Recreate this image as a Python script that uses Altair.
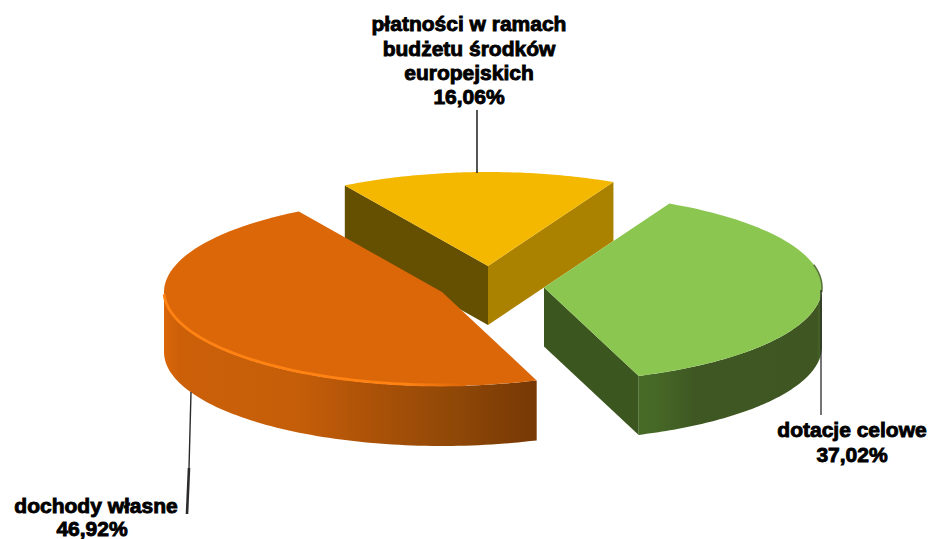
import math
import altair as alt

# Budget shares, in percent
names = ["płatności w ramach budżetu środków europejskich", "dotacje celowe", "dochody własne"]
shares = [16.06, 37.02, 46.92]

# Face colours and wall gradients of each slice
top_colors = ["#F4B800", "#8BC750", "#DB6709"]
yellow_wall_left = "#654F00"
yellow_wall_right = "#AB8100"
green_wall_flat = "#3C5620"
green_wall_stops = [(0.0, "#486A27"), (0.1, "#466826"), (0.3, "#3F5823"), (0.97, "#3F5622"), (1.0, "#4A6B28")]
orange_wall_stops = [(0.0, "#DA6608"), (0.04, "#CC6009"), (0.36, "#C55E09"), (0.55, "#AD5208"),
                     (0.78, "#8F4807"), (1.0, "#773805")]
rim_highlight_stops = [(0.0, "#FF8212"), (0.8, "#FF8212"), (1.0, "#DB6709")]
green_rim_shade = "#566F3A"
leader_color = "#2B2B2B"

# Tilted-disc geometry: ellipse radii, wall depth, first slice edge, exploded centres
RX, RY, DEPTH = 278, 94, 59
START_ANGLE = 121.0
centers = [(488, 266), (544, 287.5), (442, 292)]


def rim(center, a0, a1, dy=0, steps=80):
    cx, cy = center
    pts = []
    for i in range(steps + 1):
        a = math.radians(a0 + (a1 - a0) * i / steps)
        pts.append([cx + RX * math.cos(a), cy - RY * math.sin(a) + dy])
    return pts


def polygon(pts):
    return {"type": "Feature", "properties": {},
            "geometry": {"type": "Polygon", "coordinates": [pts + [pts[0]]]}}


def polyline(pts):
    return {"type": "Feature", "properties": {},
            "geometry": {"type": "LineString", "coordinates": pts}}


def shape(feature, **mark):
    return alt.Chart(alt.Data(values=[feature])).mark_geoshape(**mark).project(
        type="identity", scale=1, translate=[0, 0])


def gradient(stops):
    return alt.Gradient(gradient="linear", x1=0, x2=1, y1=0, y2=0,
                        stops=[alt.GradientStop(offset=o, color=c) for o, c in stops])


def low(p):
    return [p[0], p[1] + DEPTH]


# Slice edges follow directly from the shares
edges = [START_ANGLE]
for s in shares:
    edges.append(edges[-1] - s * 3.6)

layers = []

# Upper slice
c = centers[0]
a0, a1 = edges[0], edges[1]
left = rim(c, a0, a0, steps=1)[0]
right = rim(c, a1, a1, steps=1)[0]
apex = list(c)
layers.append(shape(polygon([apex, left, low(left), low(apex)]), fill=yellow_wall_left, strokeWidth=0))
layers.append(shape(polygon([apex, right, low(right), low(apex)]), fill=yellow_wall_right, strokeWidth=0))
layers.append(shape(polygon([apex] + rim(c, a0, a1)), fill=top_colors[0], strokeWidth=0))

# Right-hand slice
c = centers[1]
a0, a1 = edges[1], edges[2]
end = rim(c, a1, a1, steps=1)[0]
apex = list(c)
layers.append(shape(polygon([apex, end, low(end), low(apex)]), fill=green_wall_flat, strokeWidth=0))
wall = rim(c, a1, 0) + rim(c, 0, a1, dy=DEPTH)
layers.append(shape(polygon(wall), fill=gradient(green_wall_stops), strokeWidth=0))
layers.append(shape(polygon([apex] + rim(c, a0, a1)), fill=top_colors[1], strokeWidth=0))
layers.append(shape(polyline(rim(c, 14, -3)), filled=False, stroke=green_rim_shade, strokeWidth=1.5))

# Left-hand slice: its wall runs from the front edge round to the leftmost point
c = centers[2]
a0, a1 = edges[2], edges[3]
apex = list(c)
wall = rim(c, a0, -180) + rim(c, -180, a0, dy=DEPTH + 1)
layers.append(shape(polygon(wall), fill=gradient(orange_wall_stops), strokeWidth=0))
layers.append(shape(polygon([apex] + rim(c, a0, a1)), fill=top_colors[2], strokeWidth=0))
layers.append(shape(polyline(rim(c, -178, -85, dy=-1)), filled=False,
                    stroke=gradient(rim_highlight_stops), strokeWidth=2.8))

# Leader lines from the slices to their labels
leaders = [(477, 110, 477, 173, 1.6), (821, 290, 821, 415, 1.3),
           (191, 392, 189, 468, 1.4), (189, 468, 187, 514, 2.6)]
for x0, y0, x1, y1, w in leaders:
    layers.append(alt.Chart(alt.Data(values=[{"n": 0}])).mark_rule(color=leader_color, strokeWidth=w).encode(
        x=alt.value(x0), y=alt.value(y0), x2=alt.value(x1), y2=alt.value(y1)))


def pct(v):
    return f"{v:.2f}%".replace(".", ",")


label_lines = [
    ["płatności w ramach", "budżetu środków", "europejskich", pct(shares[0])],
    ["dotacje celowe", pct(shares[1])],
    ["dochody własne", pct(shares[2])],
]
label_anchor = [([469, 469, 469, 469], [25, 50, 74, 98]), ([852, 852], [431, 456]), ([96, 92], [507, 530])]

for lines, (xs, ys) in zip(label_lines, label_anchor):
    for line, x, y in zip(lines, xs, ys):
        layers.append(alt.Chart(alt.Data(values=[{"t": line}])).mark_text(
            font="Liberation Sans", fontWeight="bold", fontSize=21, color="black",
            stroke="black", strokeWidth=0.9, align="center", baseline="middle",
        ).encode(text="t:N", x=alt.value(x), y=alt.value(y)))

chart = alt.layer(*layers).properties(
    width=930, height=539, padding=0, autosize="none", background="white"
).configure_view(stroke=None)

chart.save("out.html", embed_options={"renderer": "svg", "actions": False})
